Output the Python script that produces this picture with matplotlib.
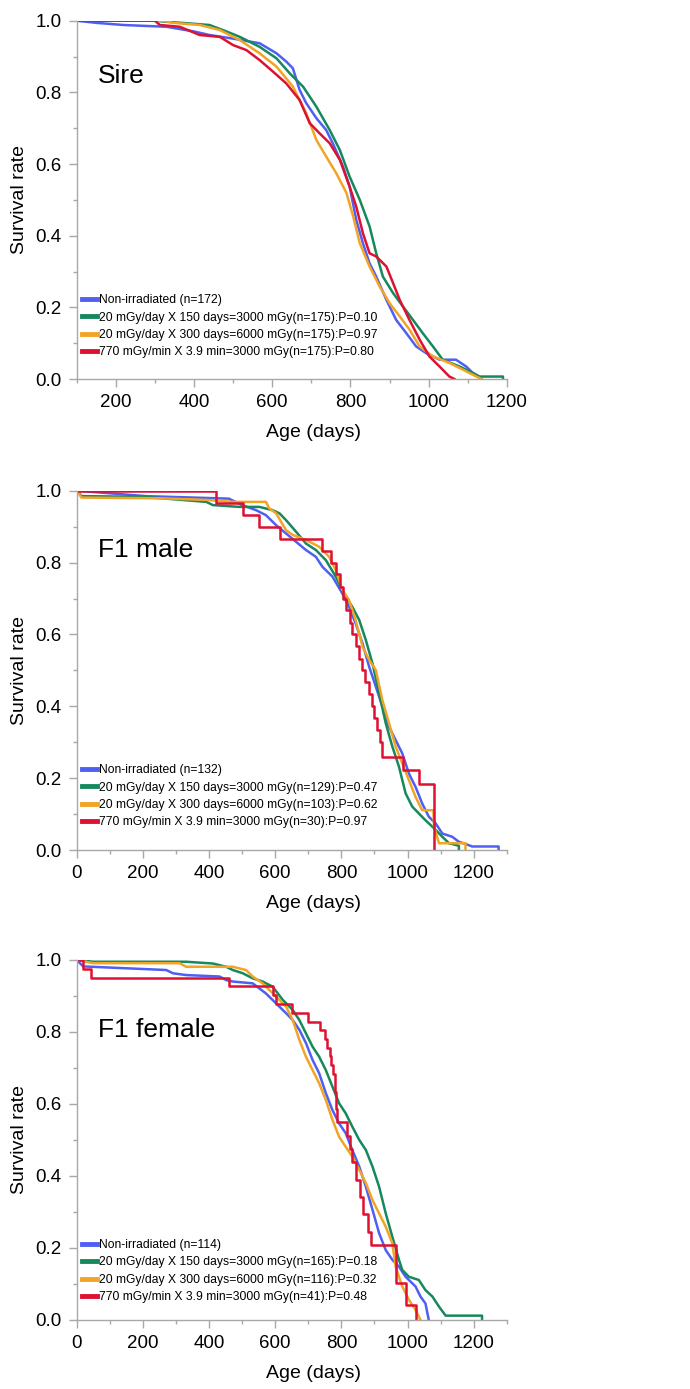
"""
Survival curves after parental irradiation: Sire, F1 male, F1 female.
Kaplan-Meier style curves read off the published figure.
"""

import matplotlib
matplotlib.use("Agg")
import matplotlib.pyplot as plt
from matplotlib.ticker import MultipleLocator

plt.rcParams["font.family"] = ["Liberation Sans", "DejaVu Sans"]

# ---- group labels -------------------------------------------------------
groups = [
    "Non-irradiated",
    "20 mGy/day X 150 days=3000 mGy",
    "20 mGy/day X 300 days=6000 mGy",
    "770 mGy/min X 3.9 min=3000 mGy",
]
colors = ["#4e5ff2", "#16895c", "#f2a426", "#dd1131"]

# ---- Sire ---------------------------------------------------------------
sire_n = [172, 175, 175, 175]
sire_p = [None, "0.10", "0.97", "0.80"]

sire_ctrl_age = [100, 150, 220, 330, 400, 440, 500, 568, 611, 636, 653, 670, 687, 713, 738, 755,
                 781, 798, 815, 832, 849, 866, 892, 917, 943, 968, 994, 1028, 1070, 1096, 1113, 1130, 1135]
sire_ctrl_surv = [1.0, 0.994, 0.988, 0.983, 0.97, 0.96, 0.95, 0.937, 0.909, 0.886, 0.867, 0.807, 0.77, 0.728,
                  0.695, 0.658, 0.593, 0.537, 0.444, 0.379, 0.323, 0.286, 0.221, 0.165, 0.128, 0.091, 0.072,
                  0.054, 0.054, 0.035, 0.017, 0.006, 0.0]

sire_150_age = [100, 300, 330, 381, 440, 483, 517, 568, 611, 645, 679, 713, 747, 773, 798, 824, 849, 866,
                883, 909, 934, 960, 985, 1011, 1036, 1079, 1113, 1130, 1190, 1190]
sire_150_surv = [1.0, 1.0, 0.997, 0.993, 0.988, 0.97, 0.955, 0.927, 0.895, 0.853, 0.816, 0.76, 0.695, 0.639,
                 0.565, 0.5, 0.426, 0.351, 0.286, 0.24, 0.203, 0.165, 0.128, 0.091, 0.054, 0.035, 0.017,
                 0.007, 0.007, 0.0]

sire_300_age = [100, 320, 347, 415, 466, 517, 568, 611, 653, 687, 713, 738, 764, 790, 807, 824, 849, 875,
                900, 926, 951, 977, 1011, 1053, 1088, 1113, 1135]
sire_300_surv = [1.0, 1.0, 0.994, 0.988, 0.974, 0.946, 0.909, 0.872, 0.816, 0.742, 0.667, 0.621, 0.574,
                 0.519, 0.454, 0.379, 0.314, 0.258, 0.212, 0.175, 0.138, 0.091, 0.063, 0.045, 0.026, 0.012, 0.0]

sire_acute_age = [100, 300, 313, 364, 415, 466, 500, 534, 568, 602, 636, 670, 696, 721, 747, 773, 798, 815,
                  832, 849, 866, 892, 909, 926, 951, 977, 1002, 1028, 1053, 1066]
sire_acute_surv = [1.0, 1.0, 0.988, 0.983, 0.96, 0.955, 0.932, 0.918, 0.89, 0.858, 0.825, 0.779, 0.714,
                   0.686, 0.658, 0.612, 0.537, 0.481, 0.407, 0.351, 0.342, 0.314, 0.268, 0.221, 0.165, 0.11,
                   0.063, 0.035, 0.007, 0.0]

# ---- F1 male ------------------------------------------------------------
male_n = [132, 129, 103, 30]
male_p = [None, "0.47", "0.62", "0.97"]

male_ctrl_age = [0, 140, 210, 460, 500, 542, 572, 603, 633, 663, 693, 723, 743, 773, 803, 823, 843, 864,
                 884, 904, 924, 944, 964, 984, 1004, 1024, 1044, 1064, 1085, 1105, 1135, 1155, 1175, 1195,
                 1275, 1275]
male_ctrl_surv = [1.0, 0.99, 0.985, 0.978, 0.96, 0.946, 0.932, 0.904, 0.881, 0.858, 0.835, 0.816, 0.788,
                  0.761, 0.714, 0.677, 0.631, 0.575, 0.51, 0.455, 0.399, 0.343, 0.306, 0.269, 0.213, 0.176,
                  0.13, 0.093, 0.074, 0.046, 0.037, 0.023, 0.017, 0.01, 0.01, 0.0]

male_150_age = [0, 15, 201, 392, 412, 492, 552, 592, 613, 633, 663, 693, 723, 753, 783, 813, 833, 854, 874,
                894, 914, 934, 954, 974, 994, 1014, 1034, 1054, 1075, 1105, 1125, 1155, 1155]
male_150_surv = [1.0, 0.985, 0.983, 0.969, 0.96, 0.955, 0.955, 0.946, 0.937, 0.918, 0.886, 0.853, 0.835,
                 0.807, 0.761, 0.705, 0.677, 0.64, 0.584, 0.519, 0.436, 0.353, 0.288, 0.232, 0.158, 0.121,
                 0.102, 0.083, 0.065, 0.037, 0.019, 0.012, 0.0]

male_300_age = [0, 15, 251, 402, 472, 572, 582, 603, 633, 653, 693, 733, 763, 783, 803, 823, 843, 864, 884,
                904, 924, 944, 964, 984, 1004, 1024, 1044, 1078, 1080, 1095, 1175, 1175]
male_300_surv = [1.0, 0.981, 0.979, 0.974, 0.969, 0.969, 0.951, 0.937, 0.89, 0.877, 0.863, 0.844, 0.816,
                 0.779, 0.724, 0.696, 0.64, 0.566, 0.529, 0.501, 0.417, 0.353, 0.288, 0.241, 0.195, 0.148,
                 0.111, 0.111, 0.065, 0.019, 0.019, 0.0]

male_acute_age = [0, 420, 502, 552, 615, 740, 770, 785, 795, 805, 815, 825, 833, 843, 852, 862, 872, 884,
                  894, 900, 907, 916, 924, 985, 1035, 1080]
male_acute_surv = [1.0, 0.967, 0.933, 0.9, 0.867, 0.833, 0.8, 0.767, 0.733, 0.7, 0.667, 0.633, 0.6, 0.567,
                   0.533, 0.5, 0.467, 0.433, 0.4, 0.367, 0.333, 0.3, 0.26, 0.222, 0.185, 0.0]

# ---- F1 female ----------------------------------------------------------
female_n = [114, 165, 116, 41]
female_p = [None, "0.18", "0.32", "0.48"]

female_ctrl_age = [0, 20, 271, 291, 331, 432, 452, 472, 532, 552, 572, 592, 613, 633, 653, 673, 693, 713,
                   733, 753, 773, 793, 813, 833, 854, 874, 894, 914, 934, 954, 974, 994, 1024, 1039, 1054, 1064]
female_ctrl_surv = [1.0, 0.982, 0.972, 0.963, 0.958, 0.954, 0.944, 0.94, 0.935, 0.921, 0.907, 0.889, 0.87,
                    0.852, 0.833, 0.806, 0.769, 0.722, 0.685, 0.63, 0.583, 0.546, 0.519, 0.472, 0.426, 0.37,
                    0.306, 0.241, 0.194, 0.167, 0.148, 0.12, 0.093, 0.065, 0.046, 0.0]

female_150_age = [0, 50, 331, 412, 452, 472, 502, 532, 562, 592, 623, 653, 673, 693, 713, 733, 753, 773,
                  793, 813, 833, 854, 874, 894, 914, 934, 954, 974, 984, 1004, 1034, 1054, 1075, 1095, 1115,
                  1225, 1225]
female_150_surv = [1.0, 0.995, 0.995, 0.99, 0.981, 0.972, 0.963, 0.949, 0.94, 0.926, 0.889, 0.861, 0.833,
                   0.796, 0.759, 0.731, 0.694, 0.648, 0.602, 0.574, 0.537, 0.5, 0.472, 0.426, 0.37, 0.296,
                   0.231, 0.167, 0.139, 0.12, 0.111, 0.083, 0.065, 0.037, 0.012, 0.012, 0.0]

female_300_age = [0, 50, 311, 331, 472, 512, 532, 562, 582, 613, 633, 653, 673, 693, 713, 733, 753, 773, 793,
                  813, 833, 854, 874, 894, 914, 934, 954, 964, 984, 1004, 1024, 1039]
female_300_surv = [1.0, 0.991, 0.991, 0.981, 0.981, 0.972, 0.954, 0.935, 0.917, 0.889, 0.87, 0.833, 0.778,
                   0.731, 0.694, 0.657, 0.611, 0.556, 0.509, 0.481, 0.454, 0.417, 0.38, 0.333, 0.296, 0.259,
                   0.213, 0.148, 0.093, 0.056, 0.028, 0.0]

female_acute_age = [0, 20, 45, 460, 592, 602, 650, 700, 735, 750, 758, 765, 770, 775, 780, 785, 788, 818,
                    825, 833, 845, 855, 865, 880, 888, 964, 994, 1024]
female_acute_surv = [1.0, 0.976, 0.951, 0.927, 0.902, 0.878, 0.854, 0.829, 0.805, 0.78, 0.756, 0.732,
                     0.707, 0.683, 0.634, 0.585, 0.549, 0.512, 0.476, 0.439, 0.39, 0.341, 0.293, 0.244, 0.207,
                     0.102, 0.041, 0.0]


def make_labels(ns, ps):
    labels = []
    for g, n, p in zip(groups, ns, ps):
        if p is None:
            labels.append(f"{g} (n={n})")
        else:
            labels.append(f"{g}(n={n}):P={p}")
    return labels


def draw_panel(ax, title, curves, ns, ps, xlim, title_y, legend_y):
    for (age, surv), n, c, lab in zip(curves, ns, colors, make_labels(ns, ps)):
        if n < 60:
            # small groups: individual deaths are visible as steps
            ax.step(age, surv, where="post", color=c, lw=1.8, label=lab)
        else:
            ax.plot(age, surv, color=c, lw=1.8, label=lab)

    ax.set_xlim(*xlim)
    ax.set_ylim(0, 1.0)
    ax.xaxis.set_major_locator(MultipleLocator(200))
    ax.xaxis.set_minor_locator(MultipleLocator(100))
    ax.yaxis.set_major_locator(MultipleLocator(0.2))
    ax.yaxis.set_minor_locator(MultipleLocator(0.1))
    ax.yaxis.set_major_formatter(plt.FormatStrFormatter("%.1f"))

    for side in ["top", "right"]:
        ax.spines[side].set_visible(False)
    for side in ["left", "bottom"]:
        ax.spines[side].set_color("#a8a8a8")
        ax.spines[side].set_linewidth(1.0)
    ax.tick_params(which="major", direction="out", length=6, width=1.0, color="#a8a8a8",
                   labelsize=13.5, pad=5)
    ax.tick_params(which="minor", direction="out", length=3, width=1.0, color="#a8a8a8")

    ax.set_xlabel("Age (days)", fontsize=14)
    ax.set_ylabel("Survival rate", fontsize=14)
    ax.xaxis.set_label_coords(0.55, -0.125)
    ax.yaxis.set_label_coords(-0.114, 0.5)

    ax.text(0.05, title_y, title, transform=ax.transAxes, fontsize=19, va="center", ha="left")

    leg = ax.legend(loc="upper left", bbox_to_anchor=(0.012, legend_y), frameon=False, fontsize=8.7,
                    handlelength=1.3, handletextpad=0.15, labelspacing=0.45, borderpad=0,
                    borderaxespad=0)
    for h in leg.get_lines():
        h.set_linewidth(3.5)


fig = plt.figure(figsize=(6.9, 13.89), dpi=100)

ax1 = fig.add_axes([0.111, 0.7271, 0.6236, 0.258])
ax2 = fig.add_axes([0.111, 0.3880, 0.6236, 0.2587])
ax3 = fig.add_axes([0.111, 0.0497, 0.6236, 0.2592])

draw_panel(ax1, "Sire",
           [(sire_ctrl_age, sire_ctrl_surv), (sire_150_age, sire_150_surv),
            (sire_300_age, sire_300_surv), (sire_acute_age, sire_acute_surv)],
           sire_n, sire_p, (100, 1200), 0.846, 0.237)
draw_panel(ax2, "F1 male",
           [(male_ctrl_age, male_ctrl_surv), (male_150_age, male_150_surv),
            (male_300_age, male_300_surv), (male_acute_age, male_acute_surv)],
           male_n, male_p, (0, 1300), 0.835, 0.239)
draw_panel(ax3, "F1 female",
           [(female_ctrl_age, female_ctrl_surv), (female_150_age, female_150_surv),
            (female_300_age, female_300_surv), (female_acute_age, female_acute_surv)],
           female_n, female_p, (0, 1300), 0.806, 0.225)

fig.savefig("out.png", dpi=100)
plt.close(fig)
